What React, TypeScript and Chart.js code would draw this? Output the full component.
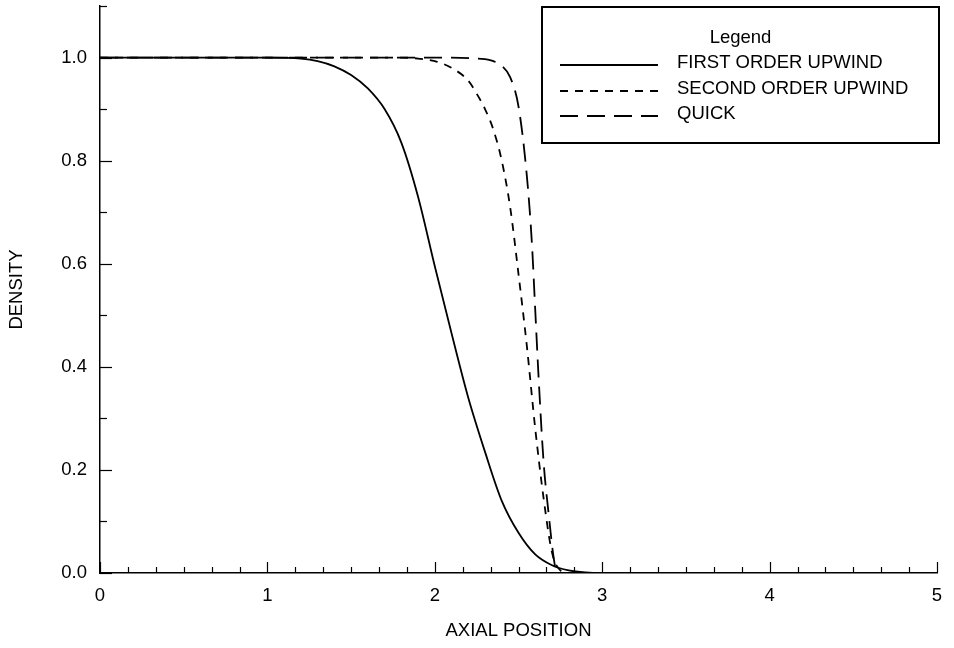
import React, { useEffect, useRef } from "react";
import { Chart, registerables } from "chart.js";

Chart.register(...registerables);

// ---- Data ----
const firstOrderX = [0, 0.5, 1.0, 1.2, 1.3, 1.4, 1.5, 1.6, 1.7, 1.8, 1.9, 2.0, 2.1, 2.2, 2.3, 2.4, 2.5, 2.6, 2.7, 2.8, 2.9, 3.0, 3.5, 4.0, 4.5, 5.0];
const firstOrderY = [1.0, 1.0, 1.0, 0.998, 0.993, 0.983, 0.966, 0.94, 0.9, 0.835, 0.73, 0.595, 0.465, 0.34, 0.235, 0.14, 0.078, 0.036, 0.015, 0.005, 0.001, 0.0, 0, 0, 0, 0];

const secondOrderX = [0, 1.0, 1.8, 1.9, 2.0, 2.1, 2.2, 2.25, 2.3, 2.35, 2.4, 2.45, 2.5, 2.55, 2.6, 2.65, 2.7, 2.75, 2.8, 3.0, 5.0];
const secondOrderY = [1.0, 1.0, 1.0, 0.998, 0.993, 0.98, 0.955, 0.93, 0.9, 0.86, 0.8, 0.71, 0.58, 0.44, 0.28, 0.145, 0.04, 0.005, 0.0, 0, 0];

const quickX = [0, 1.0, 2.0, 2.3, 2.35, 2.4, 2.45, 2.5, 2.55, 2.58, 2.6, 2.62, 2.65, 2.68, 2.71, 2.73, 2.8, 3.0, 5.0];
const quickY = [1.0, 1.0, 1.0, 0.997, 0.993, 0.984, 0.962, 0.905, 0.77, 0.64, 0.51, 0.38, 0.215, 0.115, 0.03, 0.0, 0, 0, 0];

const seriesLabels = ["FIRST ORDER UPWIND", "SECOND ORDER UPWIND", "QUICK"];
const legendTitle = "Legend";
const xAxisTitle = "AXIAL POSITION";
const yAxisTitle = "DENSITY";
const xTickLabels = ["0", "1", "2", "3", "4", "5"];
const yTickLabels = ["0.0", "0.2", "0.4", "0.6", "0.8", "1.0"];

const FONT = '"Liberation Sans", Arial, Helvetica, sans-serif';
const FONT_SIZE = 18.5;

const toPoints = (xs: number[], ys: number[]) => xs.map((x, i) => ({ x, y: ys[i] }));

const tickPlugin = {
  id: "inwardTicks",
  afterDatasetsDraw(chart: any) {
    const { ctx, chartArea, scales } = chart;
    const xs = scales.x;
    const ys = scales.y;
    ctx.save();
    ctx.strokeStyle = "#000";
    ctx.lineWidth = 1.2;
    // y ticks every 0.1, major every 0.2
    for (let i = 0; i <= 11; i++) {
      const y = Math.round(ys.getPixelForValue(i / 10)) + 0.5;
      const len = i % 2 === 0 ? 12 : 7;
      ctx.beginPath();
      ctx.moveTo(chartArea.left, y);
      ctx.lineTo(chartArea.left + len, y);
      ctx.stroke();
    }
    // x ticks every 1/6, major every 1
    for (let i = 0; i <= 30; i++) {
      const x = Math.round(xs.getPixelForValue(i / 6)) + 0.5;
      const len = i % 6 === 0 ? 11 : 6;
      ctx.beginPath();
      ctx.moveTo(x, chartArea.bottom);
      ctx.lineTo(x, chartArea.bottom - len);
      ctx.stroke();
    }
    ctx.restore();
  },
};

const boxLegendPlugin = {
  id: "boxLegend",
  afterDraw(chart: any, _args: any, opts: any) {
    const { ctx } = chart;
    const { left, top, width, height, titleY, rowYs, sampleX0, sampleX1, textX } = opts;
    ctx.save();
    ctx.fillStyle = "#fff";
    ctx.fillRect(left, top, width, height);
    ctx.strokeStyle = "#000";
    ctx.lineWidth = 2;
    ctx.strokeRect(left, top, width, height);
    ctx.fillStyle = "#000";
    ctx.font = `${FONT_SIZE}px ${FONT}`;
    ctx.textBaseline = "middle";
    ctx.textAlign = "center";
    ctx.fillText(opts.title, left + width / 2, titleY);
    ctx.textAlign = "left";
    chart.data.datasets.forEach((ds: any, i: number) => {
      const y = rowYs[i];
      ctx.beginPath();
      ctx.setLineDash(ds.borderDash || []);
      ctx.lineWidth = ds.borderWidth;
      ctx.moveTo(sampleX0, y + 2);
      ctx.lineTo(sampleX1, y + 2);
      ctx.stroke();
      ctx.setLineDash([]);
      ctx.fillText(ds.label, textX, y);
    });
    ctx.restore();
  },
};

export default function App() {
  const canvasRef = useRef<HTMLCanvasElement | null>(null);

  useEffect(() => {
    if (!canvasRef.current) return;
    Chart.defaults.color = "#000";
    Chart.defaults.font.family = FONT;
    const chart = new Chart(canvasRef.current, {
      type: "line",
      data: {
        datasets: [
          {
            label: seriesLabels[0],
            data: toPoints(firstOrderX, firstOrderY),
            borderColor: "#000",
            borderWidth: 1.8,
            borderDash: [],
            pointRadius: 0,
            cubicInterpolationMode: "monotone",
            fill: false,
          },
          {
            label: seriesLabels[1],
            data: toPoints(secondOrderX, secondOrderY),
            borderColor: "#000",
            borderWidth: 1.8,
            borderDash: [8, 7],
            pointRadius: 0,
            cubicInterpolationMode: "monotone",
            fill: false,
          },
          {
            label: seriesLabels[2],
            data: toPoints(quickX, quickY),
            borderColor: "#000",
            borderWidth: 1.8,
            borderDash: [18, 9],
            pointRadius: 0,
            cubicInterpolationMode: "monotone",
            fill: false,
          },
        ],
      },
      options: {
        responsive: false,
        animation: false,
        layout: { padding: { left: 0, top: 6, right: 17, bottom: 0 } },
        plugins: {
          legend: { display: false },
          tooltip: { enabled: false },
          boxLegend: {
            title: legendTitle,
            left: 542,
            top: 7,
            width: 397,
            height: 136,
            titleY: 38,
            rowYs: [63, 89, 114],
            sampleX0: 560,
            sampleX1: 658,
            textX: 677,
          },
        } as any,
        scales: {
          x: {
            type: "linear",
            min: 0,
            max: 5,
            grid: { display: false, drawTicks: false },
            border: { display: true, color: "#000", width: 1.5 },
            ticks: {
              stepSize: 1,
              padding: 12,
              font: { size: FONT_SIZE, family: FONT },
              color: "#000",
              maxRotation: 0,
              callback: (v: any) => xTickLabels[Math.round(Number(v))] ?? "",
            },
            title: {
              display: true,
              text: xAxisTitle,
              font: { size: FONT_SIZE, family: FONT },
              color: "#000",
              padding: { top: 0, bottom: 6 },
            },
            afterFit: (scale: any) => {
              scale.height = 75;
              scale.paddingLeft = 0;
              scale.paddingRight = 0;
            },
          },
          y: {
            type: "linear",
            min: 0,
            max: 1.1,
            grid: { display: false, drawTicks: false },
            border: { display: true, color: "#000", width: 1.5 },
            ticks: {
              stepSize: 0.2,
              includeBounds: false,
              padding: 13,
              font: { size: FONT_SIZE, family: FONT },
              color: "#000",
              callback: (v: any) => yTickLabels[Math.round(Number(v) * 5)] ?? "",
            },
            title: {
              display: true,
              text: yAxisTitle,
              font: { size: FONT_SIZE, family: FONT },
              color: "#000",
              padding: { top: 6, bottom: 0 },
            },
            afterFit: (scale: any) => {
              scale.width = 100;
              scale.paddingTop = 0;
              scale.paddingBottom = 0;
            },
          },
        },
      } as any,
      plugins: [tickPlugin, boxLegendPlugin],
    });
    return () => chart.destroy();
  }, []);

  return (
    <div style={{ position: "absolute", left: 0, top: 0, width: 954, height: 648, background: "#fff" }}>
      <canvas ref={canvasRef} width={954} height={648} style={{ display: "block" }} />
    </div>
  );
}
